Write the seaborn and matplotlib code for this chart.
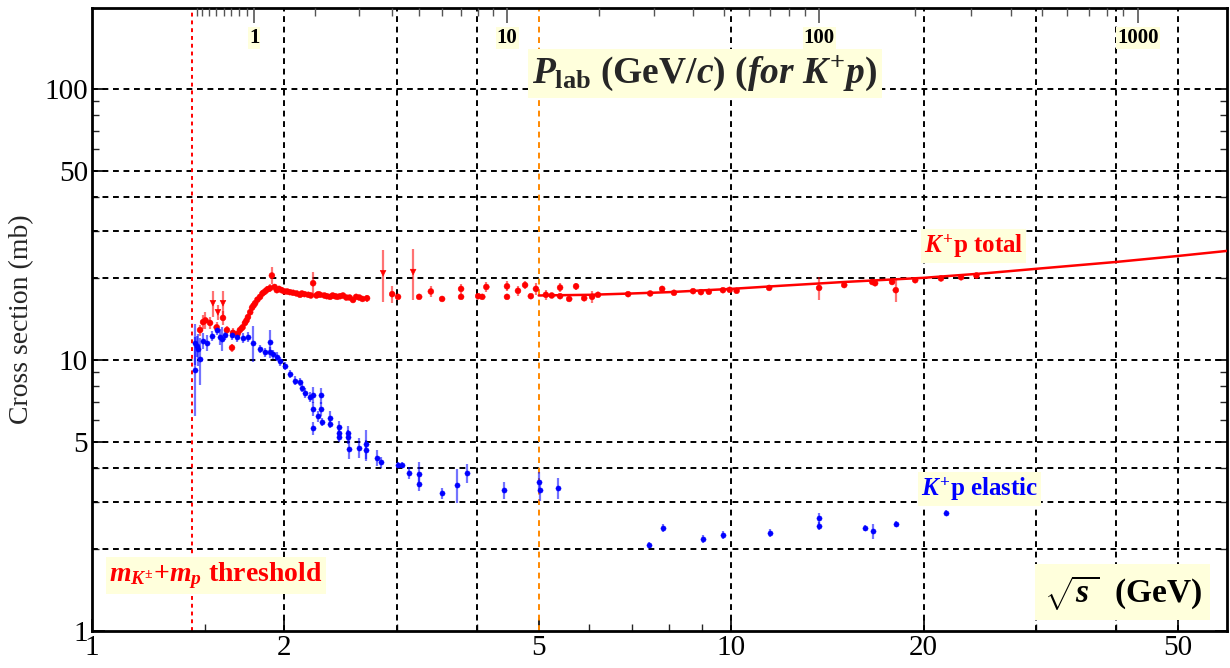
import numpy as np
import pandas as pd
import matplotlib
matplotlib.use("Agg")
import matplotlib.pyplot as plt
from matplotlib.ticker import FixedLocator, NullFormatter, FixedFormatter
import seaborn as sns

# ---------------- data ----------------
# K+ p total cross section points: sqrt(s) [GeV], sigma [mb], error [mb], marker kind
tot_sqrts = [1.476, 1.492, 1.505, 1.530, 1.546, 1.567, 1.574, 1.603, 1.603, 1.626,
             1.656, 1.662, 1.690, 1.704, 1.720, 1.735, 1.745, 1.754, 1.768, 1.780,
             1.790, 1.800, 1.815, 1.832, 1.848, 1.865, 1.880, 1.899, 1.912, 1.930,
             1.946, 1.962, 1.980, 2.000, 2.020, 2.040, 2.064, 2.090, 2.116, 2.150,
             2.180, 2.218, 2.245, 2.275, 2.310, 2.358, 2.400, 2.445, 2.500, 2.561,
             2.620, 2.694, 2.854, 2.949, 3.012, 3.18, 3.25, 3.39, 3.53, 3.78,
             3.78, 4.02, 4.08, 4.14, 4.46, 4.46, 4.64, 4.76, 4.86, 4.95,
             5.13, 5.24, 5.40, 5.40, 5.58, 5.72, 5.89, 6.06, 6.19, 6.90,
             7.47, 7.80, 8.14, 8.72, 8.97, 9.23, 9.71, 9.95, 10.2, 11.47,
             13.73, 15.03, 16.63, 16.8, 17.86, 18.1, 19.41, 21.3, 22.9, 24.2,
             2.130, 2.200, 2.260, 2.330, 2.380, 2.420, 2.470, 2.530, 2.590, 2.650]
tot_sigma = [12.9, 13.8, 14.0, 13.7, 16.2, 13.2, 15.0, 16.2, 14.3, 12.9,
             11.1, 12.6, 12.5, 12.9, 13.2, 13.7, 14.0, 14.4, 15.0, 15.6,
             15.9, 16.2, 16.7, 17.1, 17.6, 17.9, 18.2, 18.4, 20.5, 18.6,
             18.1, 18.3, 18.1, 17.9, 17.9, 17.8, 17.7, 17.6, 17.4, 17.5,
             17.4, 19.2, 17.3, 17.4, 17.3, 17.1, 17.2, 17.2, 17.0, 16.65,
             17.0, 16.9, 20.9, 17.5, 17.1, 21.1, 17.1, 17.9, 16.8, 18.3,
             17.1, 17.2, 17.1, 18.6, 18.7, 17.1, 18.0, 18.9, 17.2, 18.3,
             17.4, 17.3, 18.5, 17.2, 16.8, 18.7, 16.9, 17.1, 17.4, 17.5,
             17.6, 18.3, 17.7, 17.95, 17.8, 17.85, 18.1, 18.15, 18.0, 18.45,
             18.45, 18.9, 19.4, 19.2, 19.4, 18.1, 19.7, 20.0, 20.2, 20.5,
             17.6, 17.3, 17.5, 17.2, 17.3, 17.1, 17.3, 17.0, 17.1, 16.8]
tot_err = [0.6, 0.8, 1.0, 0.7, 1.8, 0.6, 1.0, 1.8, 0.8, 0.5,
           0.4, 0.5, 0.4, 0.4, 0.4, 0.4, 0.4, 0.4, 0.4, 0.4,
           0.4, 0.4, 0.4, 0.4, 0.5, 0.5, 0.5, 0.6, 1.5, 0.5,
           0.5, 0.5, 0.5, 0.4, 0.4, 0.3, 0.3, 0.3, 0.3, 0.3,
           0.3, 2.0, 0.3, 0.3, 0.3, 0.3, 0.3, 0.3, 0.3, 0.3,
           0.3, 0.5, 4.5, 1.3, 0.3, 4.5, 0.3, 0.8, 0.3, 0.8,
           0.3, 0.3, 0.3, 0.8, 0.8, 0.3, 0.8, 0.6, 0.3, 0.9,
           0.7, 0.3, 0.7, 0.3, 0.3, 0.6, 0.3, 0.9, 0.3, 0.3,
           0.3, 0.5, 0.3, 0.2, 0.2, 0.2, 0.3, 0.2, 0.2, 0.2,
           1.8, 0.2, 0.3, 0.2, 0.3, 1.8, 0.2, 0.2, 0.2, 0.2,
           0.3, 0.3, 0.3, 0.3, 0.3, 0.3, 0.3, 0.3, 0.3, 0.3]
tot_kind = ["o", "o", "o", "o", "v", "o", "v", "v", "o", "o",
            "o", "o", "o", "o", "o", "o", "o", "o", "o", "o",
            "o", "o", "o", "o", "o", "o", "o", "o", "o", "o",
            "o", "o", "o", "o", "o", "o", "o", "o", "o", "o",
            "o", "o", "o", "o", "o", "o", "o", "o", "o", "o",
            "o", "o", "v", "o", "o", "v", "o", "o", "o", "o",
            "o", "o", "o", "o", "o", "o", "o", "o", "o", "o",
            "o", "o", "o", "o", "o", "o", "o", "o", "o", "o",
            "o", "o", "o", "o", "o", "o", "o", "o", "o", "o",
            "o", "o", "o", "o", "o", "o", "o", "o", "o", "o",
            "o", "o", "o", "o", "o", "o", "o", "o", "o", "o"]

# K+ p elastic cross section points
el_sqrts = [1.449, 1.449, 1.460, 1.465, 1.476, 1.490, 1.513, 1.541, 1.569, 1.586,
            1.600, 1.615, 1.656, 1.686, 1.723, 1.754, 1.786, 1.832, 1.865, 1.899,
            1.899, 1.920, 1.948, 1.969, 2.005, 2.041, 2.078, 2.116, 2.130, 2.154,
            2.194, 2.218, 2.218, 2.258, 2.218, 2.283, 2.283, 2.291, 2.358, 2.358,
            2.435, 2.435, 2.435, 2.515, 2.515, 2.524, 2.617, 2.685, 2.685, 2.793,
            2.834, 3.012, 3.050, 3.134, 3.249, 3.249, 3.529, 3.727, 3.863, 4.412,
            5.00, 5.02, 5.36, 7.44, 7.83, 9.04, 9.71, 11.5, 13.73, 13.73,
            16.2, 16.7, 18.1, 21.7]
el_sigma = [9.2, 11.6, 11.3, 11.0, 10.1, 11.8, 11.6, 12.3, 12.9, 12.2,
            12.0, 12.4, 12.4, 12.2, 12.1, 12.2, 11.6, 11.0, 10.7, 10.7,
            11.7, 10.5, 10.3, 9.9, 9.5, 8.9, 8.4, 8.3, 7.9, 7.55,
            7.3, 7.45, 6.6, 6.2, 5.6, 7.4, 6.6, 5.9, 6.1, 5.8,
            5.65, 5.4, 5.2, 5.4, 5.2, 4.7, 4.75, 4.9, 4.65, 4.35,
            4.2, 4.1, 4.1, 3.83, 3.79, 3.49, 3.23, 3.46, 3.83, 3.31,
            3.55, 3.31, 3.37, 2.08, 2.40, 2.19, 2.26, 2.30, 2.61, 2.44,
            2.40, 2.34, 2.48, 2.73]
el_err = [3.0, 2.0, 1.0, 1.5, 2.0, 0.8, 0.8, 0.5, 0.5, 0.8,
          1.2, 0.5, 0.5, 0.5, 0.5, 0.5, 1.8, 0.4, 0.4, 0.5,
          1.2, 0.4, 0.4, 0.4, 0.3, 0.3, 0.3, 0.3, 0.3, 0.3,
          0.3, 0.5, 0.4, 0.3, 0.3, 0.5, 0.4, 0.2, 0.4, 0.2,
          0.3, 0.3, 0.2, 0.3, 0.3, 0.4, 0.4, 0.6, 0.4, 0.3,
          0.2, 0.1, 0.1, 0.2, 0.4, 0.2, 0.15, 0.5, 0.3, 0.25,
          0.3, 0.3, 0.3, 0.05, 0.08, 0.07, 0.07, 0.07, 0.12, 0.08,
          0.07, 0.15, 0.07, 0.06]

# fitted curve for the total cross section
fit_sqrts = [5, 6, 7, 8, 10, 12, 15, 20, 25, 30, 40, 50, 60]
fit_sigma = [17.3, 17.4, 17.6, 17.8, 18.3, 18.8, 19.4, 20.1, 20.9, 21.7, 23.0, 24.2, 25.3]

# axis ticks
x_major = [1, 2, 5, 10, 20, 50]
x_minor = [1.5, 3, 4, 6, 7, 8, 9, 30, 40]
y_major = [1, 5, 10, 50, 100]
y_minor = [2, 3, 4, 6, 7, 8, 9, 20, 30, 40, 60, 70, 80, 90]
grid_x = [2, 3, 4, 10, 20, 30, 40, 50]
grid_y = [2, 3, 4, 5, 10, 20, 30, 40, 50, 100]
plab_major = [1, 10, 100, 1000]
plab_minor = [0.2, 0.3, 0.4, 0.5, 0.6, 0.7, 0.8, 0.9,
              2, 3, 4, 5, 6, 7, 8, 9,
              20, 30, 40, 50, 60, 70, 80, 90,
              200, 300, 400, 500, 600, 700, 800, 900]
threshold_sqrts = 1.432
marker_sqrts = 5.0

M_K = 0.4937
M_P = 0.9383

# ---------------- styling ----------------
sns.set_theme(style="ticks")
plt.rcParams["font.family"] = ["Liberation Serif", "DejaVu Serif"]
plt.rcParams["mathtext.fontset"] = "custom"
plt.rcParams["mathtext.rm"] = "Liberation Serif:bold"
plt.rcParams["mathtext.it"] = "Liberation Serif:italic:bold"
plt.rcParams["mathtext.bf"] = "Liberation Serif:bold"
plt.rcParams["axes.unicode_minus"] = False

fig = plt.figure(figsize=(12.3, 6.68), dpi=100)
ax = fig.add_axes([0.0748, 0.0554, 0.9228, 0.9326])
ax.set_xscale("log")
ax.set_yscale("log")
xlim = (1, 59.7)
ax.set_xlim(*xlim)
ax.set_ylim(1, 199)

dash = (0, (3, 2.4))
for gx in grid_x:
    ax.axvline(gx, color="black", ls=dash, lw=1.4, zorder=1)
for gy in grid_y:
    ax.axhline(gy, color="black", ls=dash, lw=1.4, zorder=1)
ax.axvline(marker_sqrts, color="#ff8800", ls=dash, lw=1.4, zorder=1.5)
ax.axvline(threshold_sqrts, color="red", ls=(0, (2, 2)), lw=1.4, zorder=1.5)

tot = pd.DataFrame({"sqrts": tot_sqrts, "sigma": tot_sigma, "err": tot_err, "kind": tot_kind})
el = pd.DataFrame({"sqrts": el_sqrts, "sigma": el_sigma, "err": el_err})

ax.errorbar(tot["sqrts"], tot["sigma"], yerr=tot["err"], fmt="none",
            ecolor=(1, 0, 0, 0.55), elinewidth=1.6, zorder=3)
ax.errorbar(el["sqrts"], el["sigma"], yerr=el["err"], fmt="none",
            ecolor=(0, 0, 1, 0.55), elinewidth=1.6, zorder=3)

sns.lineplot(x=fit_sqrts, y=fit_sigma, color="red", lw=1.8, ax=ax, zorder=4)
sns.scatterplot(data=tot, x="sqrts", y="sigma", style="kind", markers={"o": "o", "v": "v"},
                color="red", edgecolor="red", s=18, legend=False, ax=ax, zorder=5)
sns.scatterplot(data=el, x="sqrts", y="sigma", color="blue", edgecolor="blue",
                s=14, legend=False, ax=ax, zorder=5)

# axes ticks
ax.xaxis.set_major_locator(FixedLocator(x_major))
ax.xaxis.set_major_formatter(FixedFormatter([str(v) for v in x_major]))
ax.xaxis.set_minor_locator(FixedLocator(x_minor))
ax.xaxis.set_minor_formatter(NullFormatter())
ax.yaxis.set_major_locator(FixedLocator(y_major))
ax.yaxis.set_major_formatter(FixedFormatter([str(v) for v in y_major]))
ax.yaxis.set_minor_locator(FixedLocator(y_minor))
ax.yaxis.set_minor_formatter(NullFormatter())
ax.tick_params(axis="both", which="major", direction="in", length=9, width=1.2,
               labelsize=21, pad=3, colors="black")
ax.tick_params(axis="both", which="minor", direction="in", length=5, width=1.0)
ax.tick_params(axis="y", which="both", left=True, right=True)
ax.tick_params(axis="x", which="both", bottom=True, top=False)
for sp in ax.spines.values():
    sp.set_linewidth(2.0)
    sp.set_color("black")
ax.set_xlabel("")
ax.set_ylabel("Cross section (mb)", fontsize=20, labelpad=7)


def plab_to_sqrts(p):
    p = np.asarray(p, dtype=float)
    return np.sqrt(M_K ** 2 + M_P ** 2 + 2 * M_P * np.sqrt(p ** 2 + M_K ** 2))


# top axis: lab momentum for K+ p, placed at the matching sqrt(s)
top = ax.twiny()
top.set_xscale("log")
top.set_xlim(*xlim)
top.xaxis.set_major_locator(FixedLocator(plab_to_sqrts(plab_major)))
top.xaxis.set_major_formatter(FixedFormatter([str(v) for v in plab_major]))
top.xaxis.set_minor_locator(FixedLocator(plab_to_sqrts(plab_minor)))
top.xaxis.set_minor_formatter(NullFormatter())
top.tick_params(axis="x", which="major", direction="in", length=11, width=1.2,
                colors="#555555", labelcolor="black", labelsize=15, pad=-29,
                top=True, bottom=False, labeltop=True, labelbottom=False)
top.tick_params(axis="x", which="minor", direction="in", length=6, width=1.0,
                colors="#555555", top=True, bottom=False)
top.tick_params(axis="y", which="both", left=False, right=False,
                labelleft=False, labelright=False)
for sp in top.spines.values():
    sp.set_visible(False)
for lab in top.xaxis.get_ticklabels():
    lab.set_fontweight("bold")
    lab.set_bbox(dict(boxstyle="square,pad=0.05", fc="#ffffdc", ec="none"))

box = dict(boxstyle="square,pad=0.12", fc="#ffffdc", ec="none")
ax.text(9.1, 114, r"$P_{\rm lab}$ (GeV/$c$) ($for$ $K^{+} p$)", fontsize=27,
        fontweight="bold", ha="center", va="center", bbox=box, zorder=6)
ax.text(20.0, 26.3, r"$K^{+}$p total", fontsize=18, fontweight="bold", color="red",
        ha="left", va="center", bbox=box, zorder=6)
ax.text(19.8, 3.34, r"$K^{+}$p elastic", fontsize=18, fontweight="bold", color="blue",
        ha="left", va="center", bbox=box, zorder=6)
ax.text(1.063, 1.6, r"$m_{K^{\pm}}{+}m_{p}$ threshold", fontsize=20, fontweight="bold",
        color="red", ha="left", va="center", bbox=box, zorder=6)
ax.text(41.0, 1.39, r"$\sqrt{s_{\,}^{\,}}$  (GeV)", fontsize=24, fontweight="bold",
        color="black", ha="center", va="center",
        bbox=dict(boxstyle="square,pad=0.25", fc="#ffffdc", ec="none"), zorder=6)

fig.savefig("out.png", dpi=100)
